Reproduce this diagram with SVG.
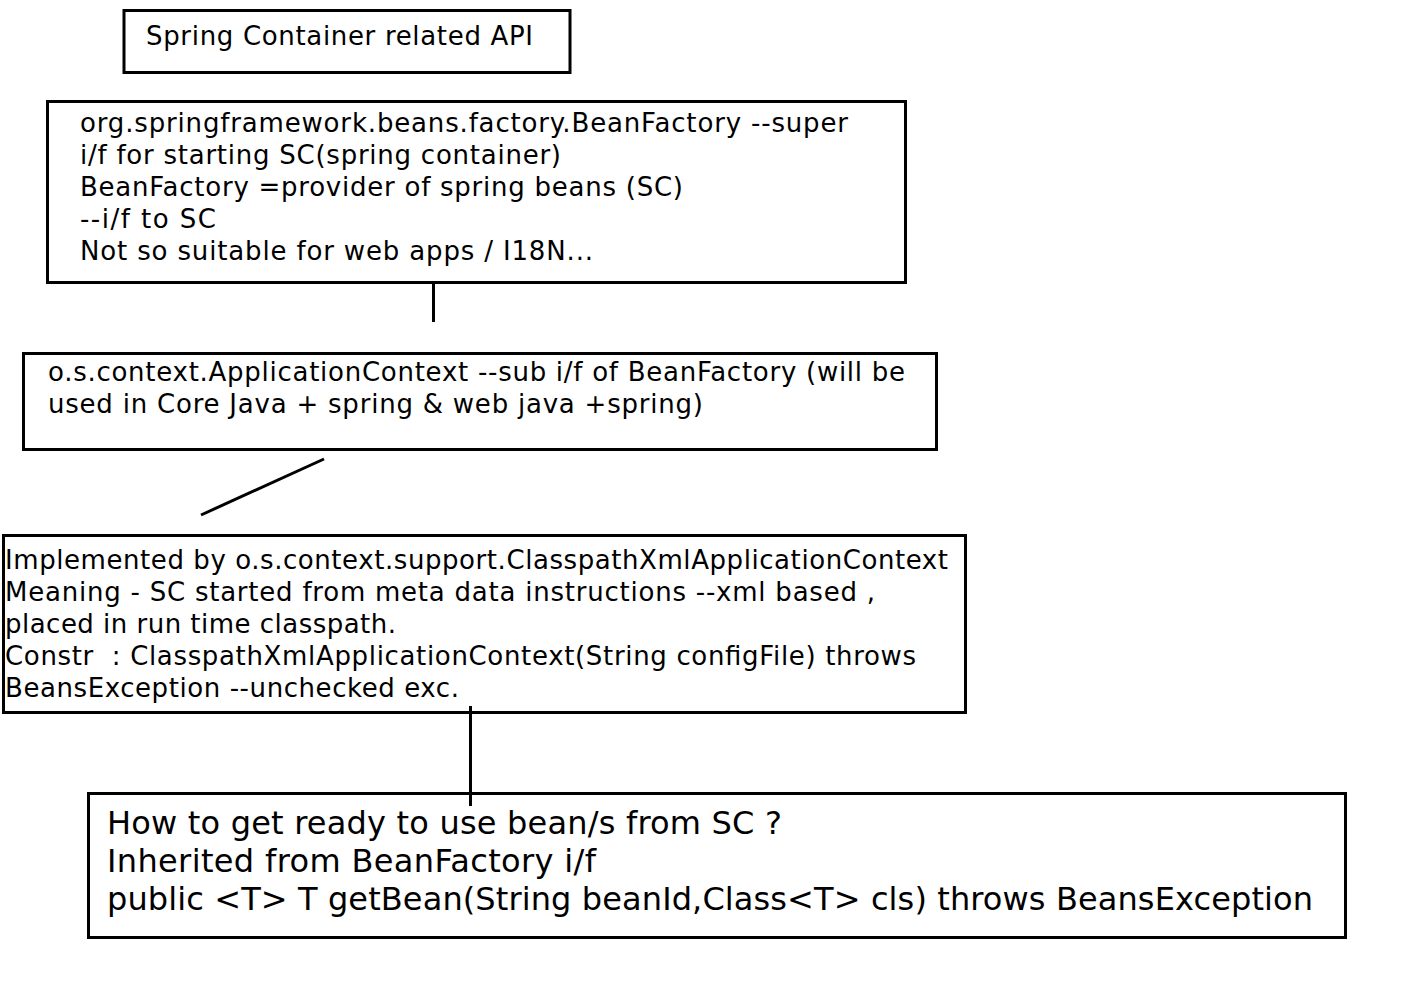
<svg xmlns="http://www.w3.org/2000/svg" width="1411" height="1006" viewBox="0 0 1411 1006">
<style>
.box{fill:#fff;stroke:#000;stroke-width:3}
.t{font-family:"DejaVu Sans","Verdana",sans-serif;font-size:26px;fill:#000;white-space:pre}
.big{font-size:32px}
.c{stroke:#000;stroke-width:3;fill:none}
</style>
<rect width="1411" height="1006" fill="#fff"/>
<g id="title">
<rect class="box" x="124" y="10.5" width="446" height="62"/>
<text class="t" x="146" y="45" textLength="387">Spring Container related API</text>
</g>
<g id="beanfactory">
<rect class="box" x="47.5" y="101.5" width="858" height="181"/>
<text class="t" x="80" y="132" textLength="768">org.springframework.beans.factory.BeanFactory --super</text>
<text class="t" x="80" y="164" textLength="481">i/f for starting SC(spring container)</text>
<text class="t" x="80" y="196" textLength="603">BeanFactory =provider of spring beans (SC)</text>
<text class="t" x="80" y="228" textLength="136">--i/f to SC</text>
<text class="t" x="80" y="260" textLength="513">Not so suitable for web apps / I18N...</text>
</g>
<g id="appcontext">
<rect class="box" x="23.5" y="353.5" width="913" height="96"/>
<text class="t" x="48" y="381" textLength="857">o.s.context.ApplicationContext --sub i/f of BeanFactory (will be</text>
<text class="t" x="48" y="413" textLength="655">used in Core Java + spring &amp; web java +spring)</text>
</g>
<g id="classpathxml">
<rect class="box" x="3.5" y="535.5" width="962" height="177"/>
<text class="t" x="5" y="569" textLength="943">Implemented by o.s.context.support.ClasspathXmlApplicationContext</text>
<text class="t" x="5" y="601" textLength="870">Meaning - SC started from meta data instructions --xml based ,</text>
<text class="t" x="5" y="633" textLength="391">placed in run time classpath.</text>
<text class="t" x="5" y="665" textLength="911">Constr  : ClasspathXmlApplicationContext(String configFile) throws</text>
<text class="t" x="5" y="697" textLength="454">BeansException --unchecked exc.</text>
</g>
<g id="getbean">
<rect class="box" x="88.5" y="793.5" width="1257" height="144"/>
<text class="t big" x="107" y="834" textLength="675">How to get ready to use bean/s from SC ?</text>
<text class="t big" x="107" y="872" textLength="489">Inherited from BeanFactory i/f</text>
<text class="t big" x="107" y="910" textLength="1206">public &lt;T&gt; T getBean(String beanId,Class&lt;T&gt; cls) throws BeansException</text>
</g>
<g id="connectors">
<line class="c" x1="433.5" y1="283" x2="433.5" y2="322"/>
<line class="c" x1="324" y1="459" x2="201" y2="515"/>
<line class="c" x1="470.5" y1="706" x2="470.5" y2="806"/>
</g>
</svg>
